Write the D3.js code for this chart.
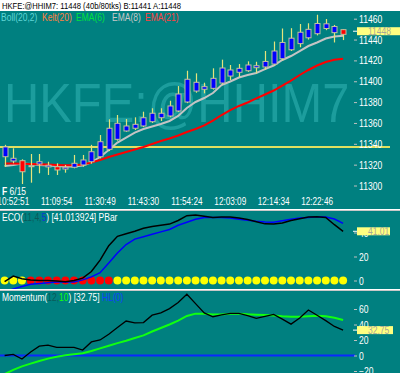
<!DOCTYPE html>
<html><head><meta charset="utf-8">
<script src="https://cdn.jsdelivr.net/npm/d3@7"></script>
<style>body{margin:0;background:#fff} svg{display:block}</style>
</head><body>
<svg id="c" width="400" height="373"></svg>
<script>
// ---------------- data ----------------
const symbol = "HKFE:@HHIM7";
const headerText = "HKFE:@HHIM7: 11448 (40b/80tks)  B:11441 A:11448";
const lastPrice = 11448;
const ecoLast = 41.01;
const momLast = 32.75;
const refLine = 11337;
const dateLabel = ["F", " 6/15"];
const timeLabels = ["10:52:51","11:09:54","11:30:49","11:43:30","11:54:24","12:03:09","12:14:34","12:22:46"];
const timeLabelBars = [1,6,11,16,21,26,31,36];
const priceTicks = [11300,11320,11340,11360,11380,11400,11420,11440,11460];
const ecoTicks = [0,20,40];
const momTicks = [-20,0,20,40,60];

const opens  = [11327.6,11323.5,11323.8,11319,11320.6,11317.8,11318,11315.8,11317.5,11319.7,11322.8,11327.6,11334.7,11344.3,11352.3,11354.9,11357.1,11361.2,11365,11366.7,11371.5,11380.1,11390.6,11392.3,11393.2,11398.3,11405,11408.6,11410.1,11413,11413.7,11416.5,11421.6,11430.2,11436.1,11441.7,11445.6,11450.6,11446.6,11449.5];
const highs  = [11339,11335.7,11325.1,11330.2,11330.2,11322.8,11321.3,11319.7,11329.3,11329.3,11339,11348.4,11363.5,11367.6,11363.8,11365.4,11370.8,11374.1,11374.1,11381.3,11395.4,11410.1,11407.6,11398.6,11412.4,11420.7,11415.6,11416.5,11419.1,11418.7,11429,11438.1,11450.6,11450.9,11454.9,11455.6,11463.8,11459.7,11454,11450];
const lows   = [11318,11321.3,11301.4,11302.7,11311.7,11310.1,11310.1,11312.3,11316.5,11318,11321,11326,11333,11343,11351.5,11353.2,11356,11360,11361.9,11365.5,11370.5,11379,11389,11388.4,11392,11397,11401.2,11404,11409,11407.6,11411,11415,11420,11429,11432.6,11440,11444,11449,11437.2,11439.5];
const closes = [11337,11326.1,11313.2,11318.2,11322.8,11319.4,11314.9,11317.5,11321.3,11324.5,11332.4,11342,11354.9,11359.7,11357.1,11358.7,11365,11369.3,11369.3,11376.3,11387.8,11401.9,11399,11394.8,11402.8,11412.7,11410.8,11412.4,11415.6,11414.9,11419,11429,11437.2,11441.3,11447,11449.8,11455.4,11455.1,11452.5,11445];

const ema8  = [11318.7,11319.7,11321.1,11320.6,11319.7,11319.2,11318.7,11318.2,11318.2,11319.2,11322.1,11327.3,11334,11341.2,11346,11350.8,11354.2,11356.6,11359,11361.9,11366.7,11374.3,11380.1,11383.9,11388.7,11396.4,11399.8,11403.6,11406,11407.9,11411.7,11415.1,11420.4,11424.2,11429,11433.8,11437.2,11441,11442.9,11443.7];
const ema21 = [11321.1,11321.1,11320.9,11320.6,11320.3,11320.1,11319.7,11319.4,11319.4,11320.1,11322.1,11324.5,11327.3,11329.7,11332.1,11334.5,11336.9,11339.8,11342.7,11345.1,11348,11351.3,11354.2,11357.6,11362.3,11367.6,11372.4,11376.3,11379.6,11383.5,11387.3,11391.1,11395.9,11400.7,11406,11410.8,11415.1,11418.5,11420.6,11421.6];

const eco       = [-1,3.75,1.5,0.5,0,0,-0.5,-1,0,2,7.5,17,29,36.8,39,41,43.5,45,46,47,50,54,54.6,53.5,52.5,53,53,52,50.8,49,47.2,47,48,50,51.5,53,53.2,52.6,46.5,41.01];
const ecoSignal = [-10,-7,-5,-3.2,-2.5,-1.8,-1.3,-1.2,-1.2,0.5,3,6.5,14.5,23,30,34.5,36.5,38.5,40.5,42.5,46,48.5,51,52.4,52.5,52.6,52,51,50.2,49.4,48.8,48.5,49.8,51,52,52.6,53.2,53,51.2,47.6];
const pbar = ["Y","Y","Y","R","R","R","R","R","R","R","R","R","R","Y","Y","Y","Y","Y","Y","Y","Y","Y","Y","Y","Y","Y","Y","Y","Y","Y","Y","Y","Y","Y","Y","Y","Y","Y","Y","Y"];

const momentum   = [0,1.5,-4.5,4.5,12,13.5,10.5,10.5,10.5,7,17.5,20,27.5,36,44.5,42,42.5,52,55,60.5,68.5,79,67,55,50,52.5,54.4,54.4,51.5,48,50.5,53,47,40.5,48.5,58.7,52,45,37.5,32.75];
const momentumMA = [-24,-18.5,-14,-10.5,-7,-4,-1.5,0.3,1.5,2.8,5.8,9.2,12.5,16,19,22.5,26,31,35.5,40,45,51,54,54,53,53,54,54,53.2,52.7,52.3,51.5,50.5,50,50,50.8,51.3,50.5,48.8,45.8];

// ---------------- layout / style ----------------
const W = 400, H = 373;
const TEAL = "#008080";
const FONT = "Arial, 'Liberation Sans', sans-serif";
const K = 0.85; // horizontal condensing of the bitmap-like font
const P = {
  main: {top: 11, bottom: 209},
  eco:  {top: 211, bottom: 289},
  mom:  {top: 291, bottom: 373}
};

const svg = d3.select("#c");
svg.append("rect").attr("width", W).attr("height", H).attr("fill", TEAL);
svg.append("rect").attr("width", W).attr("height", P.main.top).attr("fill", "#ffffff");

const idx = d3.range(opens.length);
const x = d3.scaleLinear().domain([0, 39]).range([4.6, 343.1]);
const yMain = d3.scaleLinear().domain([11300, 11460]).range([185.5, 18.7]);
const yEco = d3.scaleLinear().domain([0, 20]).range([280.5, 256.5]);
const yMom = d3.scaleLinear().domain([0, 60]).range([355.5, 309]);

function ctext(g, px, py, k, size) {
  return g.append("text")
    .attr("transform", `translate(${px},${py}) scale(${k},1)`)
    .attr("font-family", FONT).attr("font-size", size);
}

// clip paths
const defs = svg.append("defs");
Object.entries(P).forEach(([name, p]) => {
  defs.append("clipPath").attr("id", "clip-" + name)
    .append("rect").attr("x", 0).attr("y", p.top).attr("width", 352).attr("height", p.bottom - p.top);
});

// header
ctext(svg, 2, 8.6, K, 9).attr("fill", "#000").text(headerText);

// ---------------- main panel ----------------
const gm = svg.append("g");
// watermark
gm.append("text")
  .attr("transform", `translate(4,122) scale(0.88,1)`)
  .attr("font-family", FONT).attr("font-size", 55.5)
  .attr("fill", "#1c9d9d").text(symbol);

// reference line
gm.append("line").attr("x1", 0).attr("x2", 390)
  .attr("y1", yMain(refLine)).attr("y2", yMain(refLine))
  .attr("stroke", "#e0e060").attr("stroke-width", 2);

const gmc = gm.append("g").attr("clip-path", "url(#clip-main)");
const lineMain = arr => d3.line().x((d, i) => x(i)).y(d => yMain(d))(arr);
gmc.append("path").attr("d", lineMain(ema8)).attr("fill", "none").attr("stroke", "#c4c4c4").attr("stroke-width", 2);
gmc.append("path").attr("d", lineMain(ema21)).attr("fill", "none").attr("stroke", "#ff0000").attr("stroke-width", 2);

// candles
const cg = gmc.append("g");
cg.selectAll("line.wick").data(idx).join("line")
  .attr("x1", i => Math.round(x(i)) + 0.5).attr("x2", i => Math.round(x(i)) + 0.5)
  .attr("y1", i => yMain(highs[i])).attr("y2", i => yMain(lows[i]))
  .attr("stroke", "#e4e47c").attr("stroke-width", 1.2);
cg.selectAll("rect.body").data(idx).join("rect")
  .attr("x", i => Math.round(x(i)) - 2)
  .attr("y", i => yMain(Math.max(opens[i], closes[i])))
  .attr("width", 5)
  .attr("height", i => Math.max(1, Math.abs(yMain(opens[i]) - yMain(closes[i]))))
  .attr("fill", i => closes[i] >= opens[i] ? "#0000ff" : "#ff0000")
  .attr("stroke", "#c0c0a0").attr("stroke-width", 1);

// legend
const legendItems = [
  {t: "Boll(20,2)", c: "#5fd6d6", x: 1},
  {t: "Kelt(20)", c: "#ff8040", x: 42},
  {t: "EMA(6)", c: "#00e040", x: 76},
  {t: "EMA(8)", c: "#c8c8c8", x: 112},
  {t: "EMA(21)", c: "#ff4040", x: 145}
];
legendItems.forEach(d => ctext(gm, d.x, 20.5, K, 10).attr("fill", d.c).text(d.t));

// price axis
const axisMain = d3.axisRight(yMain).tickValues(priceTicks).tickSize(3).tickPadding(2).tickFormat(d3.format("d"));
function styleAxis(g) {
  g.select(".domain").remove();
  g.selectAll(".tick line").attr("stroke", "#c0c0c0");
  g.selectAll(".tick text").attr("fill", "#ffffff").attr("font-family", FONT).attr("font-size", 10)
    .attr("dy", "0.35em")
    .attr("transform", function() { const xx = +d3.select(this).attr("x"); return `translate(${xx},0) scale(0.86,1) translate(${-xx},0)`; });
}
gm.append("g").attr("transform", "translate(354,0)").call(axisMain).call(styleAxis);

// last value box
function valueBox(g, yv, label, w) {
  g.append("line").attr("x1", 353).attr("x2", 357).attr("y1", yv).attr("y2", yv).attr("stroke", "#ffffff");
  g.append("rect").attr("x", 357).attr("y", yv - 4).attr("width", w).attr("height", 8).attr("fill", "#ffff80");
  ctext(g, 368, yv + 3.4, K, 10).attr("fill", "#a8a898").text(label);
}
valueBox(gm, yMain(lastPrice), String(lastPrice), 43);

// time axis
timeLabels.forEach((t, j) => {
  ctext(gm, x(timeLabelBars[j]), 205, 0.82, 10).attr("fill", "#ffffff").attr("text-anchor", "middle").text(t);
});
const dl = ctext(gm, 2, 195, K, 10).attr("fill", "#ffffff");
dl.append("tspan").attr("font-weight", "bold").text(dateLabel[0]);
dl.append("tspan").text(dateLabel[1]);

// separators
function sep(y) {
  svg.append("rect").attr("x", 0).attr("y", y).attr("width", W).attr("height", 1).attr("fill", "#ffffff");
  svg.append("rect").attr("x", 0).attr("y", y + 1).attr("width", W).attr("height", 1).attr("fill", "#c8c8c8");
}
sep(P.main.bottom);
sep(P.eco.bottom);

// ---------------- ECO panel ----------------
const ge = svg.append("g");
const gec = ge.append("g").attr("clip-path", "url(#clip-eco)");
gec.selectAll("circle").data(idx).join("circle")
  .attr("cx", i => x(i)).attr("cy", yEco(0)).attr("r", 4)
  .attr("fill", i => pbar[i] === "Y" ? "#ffff00" : "#ff0000");
const lineEco = arr => d3.line().x((d, i) => x(i)).y(d => yEco(d))(arr);
gec.append("path").attr("d", lineEco(ecoSignal)).attr("fill", "none").attr("stroke", "#0000ff").attr("stroke-width", 1.5);
gec.append("path").attr("d", lineEco(eco)).attr("fill", "none").attr("stroke", "#000000").attr("stroke-width", 1.5);

const ecoLeg = ctext(ge, 2, 221, K, 10).attr("fill", "#ffffff");
ecoLeg.append("tspan").text("ECO(");
ecoLeg.append("tspan").attr("fill", "#0b5a5a").text("11,4,");
ecoLeg.append("tspan").attr("fill", "#1038d0").text("5");
ecoLeg.append("tspan").text(")  [41.013924]   PBar");

const axisEco = d3.axisRight(yEco).tickValues(ecoTicks).tickSize(3).tickPadding(2);
ge.append("g").attr("transform", "translate(354,0)").call(axisEco).call(styleAxis);
valueBox(ge, yEco(ecoLast), ecoLast.toFixed(2), 33);

// ---------------- Momentum panel ----------------
const gmo = svg.append("g");
gmo.append("line").attr("x1", 0).attr("x2", 355).attr("y1", yMom(0)).attr("y2", yMom(0))
  .attr("stroke", "#0a28ff").attr("stroke-width", 2);
const gmoc = gmo.append("g").attr("clip-path", "url(#clip-mom)");
const lineMom = arr => d3.line().x((d, i) => x(i)).y(d => yMom(d))(arr);
gmoc.append("path").attr("d", lineMom(momentumMA)).attr("fill", "none").attr("stroke", "#10ff10").attr("stroke-width", 2);
gmoc.append("path").attr("d", lineMom(momentum)).attr("fill", "none").attr("stroke", "#000000").attr("stroke-width", 1.3);

const momLeg = ctext(gmo, 2, 301, K, 10).attr("fill", "#ffffff");
momLeg.append("tspan").text("Momentum(");
momLeg.append("tspan").attr("fill", "#0b5a5a").text("12,");
momLeg.append("tspan").attr("fill", "#10ff10").text("10");
momLeg.append("tspan").text(")  [32.75]   ");
momLeg.append("tspan").attr("fill", "#1040ff").text("HL(0)");

const axisMom = d3.axisRight(yMom).tickValues(momTicks).tickSize(3).tickPadding(2);
gmo.append("g").attr("transform", "translate(354,0)").call(axisMom).call(styleAxis);
valueBox(gmo, yMom(momLast), momLast.toFixed(2), 36);
</script>
</body></html>
